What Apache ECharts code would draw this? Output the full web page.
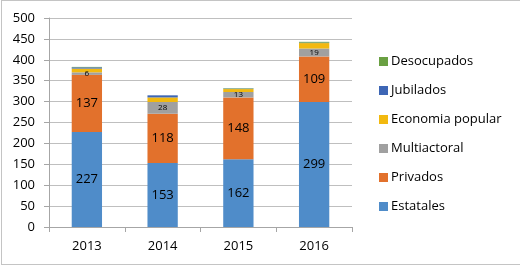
<!DOCTYPE html>
<html><head><meta charset="utf-8">
<script src="https://cdn.jsdelivr.net/npm/echarts@6/dist/echarts.min.js"></script>
<style>
html,body{margin:0;padding:0;background:#fff;}
#wrap{position:absolute;left:0;top:0;width:520px;height:267px;}
#c{position:absolute;left:0;top:0;width:520px;height:267px;}
#frame{position:absolute;left:1px;top:0;width:530px;height:265px;border:1px solid #c4c4c4;box-sizing:border-box;pointer-events:none;}
</style></head>
<body><div id="wrap"><div id="c"></div><div id="frame"></div></div>
<script>
const years = ['2013','2014','2015','2016'];
const estatales = [227, 153, 162, 299];
const privados = [137, 118, 148, 109];
const multiactoral = [6, 28, 13, 19];
const economiaPopular = [9, 11, 7, 13];
const jubilados = [3, 5, 1, 1];
const desocupados = [1, 0, 1, 2];
const yTicks = [0, 50, 100, 150, 200, 250, 300, 350, 400, 450, 500];

const FONT = 'Open Sans';
const chart = echarts.init(document.getElementById('c'), null, {renderer:'canvas'});
function s(name, data, color, label) {
  return {
    name, type:'bar', stack:'t', data, barWidth:'40%',
    itemStyle:{color},
    label: label ? Object.assign({show:true, position:'inside', color:'#000', fontFamily:FONT}, label) : {show:false},
    emphasis:{disabled:true}
  };
}
chart.setOption({
  animation:false,
  textStyle:{fontFamily:FONT},
  grid:{left:49, right:168, top:18, bottom:40, containLabel:false},
  legend:{
    orient:'vertical', left:374, top:50, itemGap:16, itemWidth:9, itemHeight:9,
    icon:'rect', textStyle:{fontSize:13, color:'#000', fontFamily:FONT, padding:[0,0,0,-2]},
    data:['Desocupados','Jubilados','Economia popular','Multiactoral','Privados','Estatales']
  },
  xAxis:{
    type:'category', data:years,
    axisLine:{lineStyle:{color:'#a6a6a6'}},
    axisTick:{show:true, length:5, lineStyle:{color:'#a6a6a6'}},
    axisLabel:{color:'#000', fontSize:13, margin:13, fontFamily:FONT}
  },
  yAxis:{
    type:'value', min:0, max:500, interval:50,
    axisLine:{show:true, lineStyle:{color:'#a6a6a6'}},
    axisTick:{show:true, length:5, lineStyle:{color:'#a6a6a6'}},
    splitLine:{lineStyle:{color:'#bfbfbf'}},
    axisLabel:{color:'#000', fontSize:13, margin:14, fontFamily:FONT,
      formatter:v => yTicks.includes(v) ? String(v) : ''}
  },
  series:[
    s('Estatales', estatales, '#4f8cc9', {fontSize:13}),
    s('Privados', privados, '#e2712c', {fontSize:13}),
    s('Multiactoral', multiactoral, '#a0a0a0', {fontSize:8}),
    s('Economia popular', economiaPopular, '#f2b90f'),
    s('Jubilados', jubilados, '#3d66b5'),
    s('Desocupados', desocupados, '#6aa042')
  ]
});
</script></body></html>
